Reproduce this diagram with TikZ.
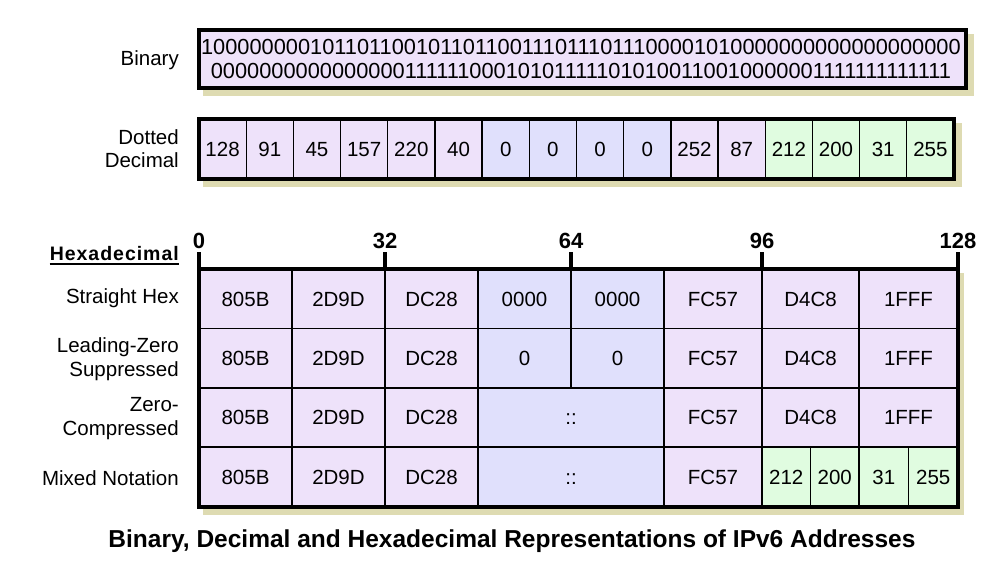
\documentclass[tikz,border=0pt]{standalone}
\usepackage{fontspec}
\setmainfont{Liberation Sans}
\newfontfamily\spacedfont[LetterSpace=5]{Liberation Sans}
\definecolor{pur}{RGB}{238,226,250}
\definecolor{blu}{RGB}{224,224,252}
\definecolor{grn}{RGB}{224,252,224}
\definecolor{shad}{RGB}{222,219,178}
\newcommand\mkcell[7]{%
  \node[cell, fill=#6, minimum width={#4-#2}, minimum height={#5-#3}] (#1) at ({(#2+#4)/2},{(#3+#5)/2}) {#7};}
\begin{document}
\begin{tikzpicture}[x=1pt,y=-1pt,
  cell/.style={draw=black, line width=1.3pt, inner sep=0pt, outer sep=0pt, text height=14.7pt, text depth=0pt, font=\fontsize{20.5}{23}\selectfont},
  frame/.style={draw=black, line width=4pt},
  shadowfill/.style={fill=shad, draw=none},
  lbl/.style={anchor=east, align=right, inner sep=0pt, font=\fontsize{20.5}{23.5}\selectfont},
  rulerlbl/.style={inner sep=0pt, text height=15.8pt, text depth=0pt, font=\bfseries\fontsize{22}{24}\selectfont},
  tickline/.style={line width=3.5pt}]
\useasboundingbox (0,0) rectangle (1000,568);

% shadows
\fill[shadowfill] (203,33.5) rectangle (974,95.5);
\fill[shadowfill] (203,123) rectangle (962,187);
\fill[shadowfill] (203,273) rectangle (964,514.5);

% binary
\node[fill=pur, draw=black, line width=4pt, inner sep=0pt, minimum width=767pt, minimum height=58pt] (bin) at (582.5,58.5) {};
\node[inner sep=0pt, align=center, font=\fontsize{21.8}{24.5}\selectfont] (bintext) at (581,59)
  {1000000001011011001011011001110111011100001010000000000000000000\\
   0000000000000000111111000101011111010100110010000001111111111111};
\node[lbl] (binlbl) at (179,60) {Binary};

% dotted decimal
\node[lbl] (declbl) at (179,148.5) {Dotted\\Decimal};
\foreach \v/\c [count=\i from 0] in {128/pur,91/pur,45/pur,157/pur,220/pur,40/pur,0/blu,0/blu,0/blu,0/blu,252/pur,87/pur,212/grn,200/grn,31/grn,255/grn}{
  \pgfmathsetmacro\xa{199+47.1875*\i}
  \pgfmathsetmacro\xb{199+47.1875*(\i+1)}
  \mkcell{d\i}{\xa}{119}{\xb}{179}{\c}{\v}
}
\draw[frame] (199,119) rectangle (954,179);

% hexadecimal header
\node[anchor=east, inner sep=0pt, font=\spacedfont\bfseries\fontsize{19.5}{21}\selectfont] (hexlbl) at (179,254) {Hexadecimal};
\draw[line width=1.6pt] ([yshift=-3pt]hexlbl.base west) -- ([yshift=-3pt]hexlbl.base east);
\foreach \x/\t [count=\i from 0] in {199/0,385/32,571/64,762/96,958/128}{
  \node[rulerlbl] (r\i) at (\x,241) {\t};
}

% row labels
\node[lbl] (l1) at (179,298) {Straight Hex};
\node[lbl] (l2) at (179,359) {Leading-Zero\\Suppressed};
\node[lbl] (l3) at (179,418.5) {Zero-\\Compressed};
\node[lbl] (l4) at (179,478) {Mixed Notation};

% row 1
\mkcell{a1}{199}{269}{292}{328.5}{pur}{805B}
\mkcell{a2}{292}{269}{385}{328.5}{pur}{2D9D}
\mkcell{a3}{385}{269}{478}{328.5}{pur}{DC28}
\mkcell{a4}{478}{269}{571}{328.5}{blu}{0000}
\mkcell{a5}{571}{269}{664}{328.5}{blu}{0000}
\mkcell{a6}{664}{269}{762}{328.5}{pur}{FC57}
\mkcell{a7}{762}{269}{859}{328.5}{pur}{D4C8}
\mkcell{a8}{859}{269}{958}{328.5}{pur}{1FFF}
% row 2
\mkcell{b1}{199}{328.5}{292}{388}{pur}{805B}
\mkcell{b2}{292}{328.5}{385}{388}{pur}{2D9D}
\mkcell{b3}{385}{328.5}{478}{388}{pur}{DC28}
\mkcell{b4}{478}{328.5}{571}{388}{blu}{0}
\mkcell{b5}{571}{328.5}{664}{388}{blu}{0}
\mkcell{b6}{664}{328.5}{762}{388}{pur}{FC57}
\mkcell{b7}{762}{328.5}{859}{388}{pur}{D4C8}
\mkcell{b8}{859}{328.5}{958}{388}{pur}{1FFF}
% row 3
\mkcell{c1}{199}{388}{292}{447}{pur}{805B}
\mkcell{c2}{292}{388}{385}{447}{pur}{2D9D}
\mkcell{c3}{385}{388}{478}{447}{pur}{DC28}
\mkcell{c4}{478}{388}{664}{447}{blu}{::}
\mkcell{c6}{664}{388}{762}{447}{pur}{FC57}
\mkcell{c7}{762}{388}{859}{447}{pur}{D4C8}
\mkcell{c8}{859}{388}{958}{447}{pur}{1FFF}
% row 4
\mkcell{e1}{199}{447}{292}{506.5}{pur}{805B}
\mkcell{e2}{292}{447}{385}{506.5}{pur}{2D9D}
\mkcell{e3}{385}{447}{478}{506.5}{pur}{DC28}
\mkcell{e4}{478}{447}{664}{506.5}{blu}{::}
\mkcell{e6}{664}{447}{762}{506.5}{pur}{FC57}
\mkcell{e7}{762}{447}{810.5}{506.5}{grn}{212}
\mkcell{e8}{810.5}{447}{859}{506.5}{grn}{200}
\mkcell{e9}{859}{447}{908.5}{506.5}{grn}{31}
\mkcell{e10}{908.5}{447}{958}{506.5}{grn}{255}

\draw[frame] (199,269) rectangle (958,506.5);
\foreach \x in {199,385,571,762,958}{
  \draw[tickline] (\x,252) -- (\x,269);
}

% title
\node[inner sep=0pt, font=\bfseries\fontsize{24.5}{27}\selectfont] (title) at (512,541)
  {Binary, Decimal and Hexadecimal Representations of IPv6 Addresses};
\end{tikzpicture}
\end{document}
